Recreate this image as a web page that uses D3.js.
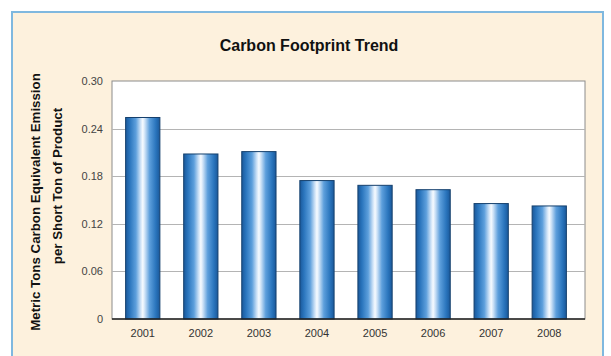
<!DOCTYPE html>
<html><head><meta charset="utf-8">
<script src="https://cdn.jsdelivr.net/npm/d3@7"></script>
<style>html,body{margin:0;padding:0;background:#fff;}svg{display:block;}</style>
</head><body>
<script>
const years = ["2001","2002","2003","2004","2005","2006","2007","2008"];
const values = [0.254, 0.208, 0.211, 0.1745, 0.1685, 0.163, 0.1455, 0.1425];
const yTicks = [0, 0.06, 0.12, 0.18, 0.24, 0.30];
const yTickLabels = ["0", "0.06", "0.12", "0.18", "0.24", "0.30"];
const title = "Carbon Footprint Trend";
const yTitle = ["Metric Tons Carbon Equivalent Emission", "per Short Ton of Product"];

const W = 611, H = 356;
const svg = d3.select("body").append("svg").attr("width", W).attr("height", H);
const defs = svg.append("defs");
const g = defs.append("linearGradient").attr("id","barGrad").attr("x1","0%").attr("x2","100%").attr("y1","0%").attr("y2","0%");
[[0,"#1a589a"],[0.12,"#2a75bd"],[0.3,"#5d9fdc"],[0.44,"#cfe3f7"],[0.5,"#f7fbff"],[0.56,"#cfe3f7"],[0.7,"#5d9fdc"],[0.88,"#2a75bd"],[1,"#1a589a"]]
  .forEach(([o,c]) => g.append("stop").attr("offset", o).attr("stop-color", c));

// frame
svg.append("rect").attr("x",12).attr("y",12).attr("width",591).attr("height",360)
  .attr("fill","#fdf1dd").attr("stroke","#7fb8df").attr("stroke-width",2);

const plot = {left:112, right:585, top:81, bottom:319};
const x = d3.scaleBand().domain(years).range([114, 578]).paddingInner(0.41).paddingOuter(0.2);
const y = d3.scaleLinear().domain([0, 0.30]).range([plot.bottom, plot.top]);

svg.append("rect").attr("x",plot.left).attr("y",plot.top).attr("width",plot.right-plot.left).attr("height",plot.bottom-plot.top)
  .attr("fill","#fff").attr("stroke","#8c8c8c").attr("stroke-width",1);

// gridlines
svg.append("g").selectAll("line").data(yTicks.filter(d => d > 0 && d < 0.30)).join("line")
  .attr("x1", plot.left).attr("x2", plot.right)
  .attr("y1", d => Math.round(y(d)) + 0.5).attr("y2", d => Math.round(y(d)) + 0.5)
  .attr("stroke","#b4b4b4").attr("stroke-width",1);

// y axis
const yAxis = d3.axisLeft(y).tickValues(yTicks).tickFormat((d,i) => yTickLabels[i]).tickSize(0).tickPadding(9);
const ya = svg.append("g").attr("transform", `translate(${plot.left},0)`).call(yAxis);
ya.select(".domain").remove();
ya.selectAll("text").attr("font-family","Liberation Sans, Arial, sans-serif").attr("font-size",11).attr("fill","#444");

// bars
svg.append("g").selectAll("rect").data(years).join("rect")
  .attr("x", d => x(d)).attr("width", x.bandwidth())
  .attr("y", (d,i) => y(values[i])).attr("height", (d,i) => y(0) - y(values[i]))
  .attr("fill","url(#barGrad)").attr("stroke","#15406d").attr("stroke-width",1);

// baseline
svg.append("line").attr("x1",plot.left).attr("x2",plot.right).attr("y1",plot.bottom).attr("y2",plot.bottom)
  .attr("stroke","#222").attr("stroke-width",1.5);

// x axis labels
const xAxis = d3.axisBottom(x).tickSize(0).tickPadding(10);
const xa = svg.append("g").attr("transform", `translate(0,${plot.bottom})`).call(xAxis);
xa.select(".domain").remove();
xa.selectAll("text").attr("font-family","Liberation Sans, Arial, sans-serif").attr("font-size",11).attr("fill","#333");

// title
svg.append("text").attr("x",309).attr("y",51).attr("text-anchor","middle")
  .attr("font-family","Liberation Sans, Arial, sans-serif").attr("font-weight","bold").attr("font-size",16).attr("fill","#111")
  .text(title);

// y title
svg.append("text").attr("transform","translate(39.5,202) rotate(-90)").attr("text-anchor","middle")
  .attr("font-family","Liberation Sans, Arial, sans-serif").attr("font-weight","bold").attr("font-size",13.3).attr("fill","#111")
  .text(yTitle[0]);
svg.append("text").attr("transform","translate(62,186) rotate(-90)").attr("text-anchor","middle")
  .attr("font-family","Liberation Sans, Arial, sans-serif").attr("font-weight","bold").attr("font-size",13.3).attr("fill","#111")
  .text(yTitle[1]);
</script>
</body></html>
